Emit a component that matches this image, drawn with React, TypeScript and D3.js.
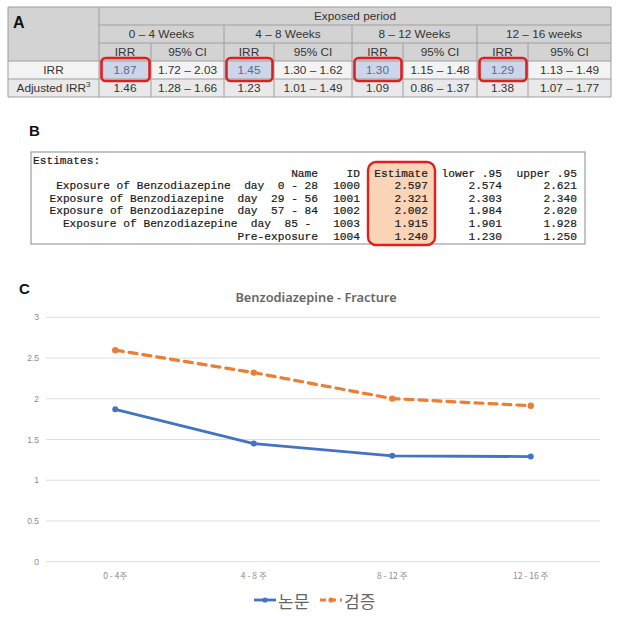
import React from "react";
import * as d3 from "d3";

// ---------- Data: panel A ----------
const periods = ["0 – 4 Weeks", "4 – 8 Weeks", "8 – 12 Weeks", "12 – 16 weeks"];
const irr = [1.87, 1.45, 1.3, 1.29];
const irrCI = ["1.72 – 2.03", "1.30 – 1.62", "1.15 – 1.48", "1.13 – 1.49"];
const adjIrr = [1.46, 1.23, 1.09, 1.38];
const adjCI = ["1.28 – 1.66", "1.01 – 1.49", "0.86 – 1.37", "1.07 – 1.77"];

// ---------- Data: panel B ----------
const estNames = [
  "Exposure of Benzodiazepine  day  0 - 28",
  "Exposure of Benzodiazepine  day  29 - 56",
  "Exposure of Benzodiazepine  day  57 - 84",
  "Exposure of Benzodiazepine  day  85 - ",
  "Pre-exposure",
];
const estIds = [1000, 1001, 1002, 1003, 1004];
const estimates = [2.597, 2.321, 2.002, 1.915, 1.24];
const lower95 = [2.574, 2.303, 1.984, 1.901, 1.23];
const upper95 = [2.621, 2.34, 2.02, 1.928, 1.25];

// ---------- Data: panel C ----------
const categories = ["0 - 4주", "4 - 8 주", "8 - 12 주", "12 - 16 주"];
const paperSeries = [1.87, 1.45, 1.3, 1.29];
const verifySeries = [2.597, 2.321, 2.002, 1.915];
const seriesNames = ["논문", "검증"];
const yTicks = [0, 0.5, 1, 1.5, 2, 2.5, 3];

const SANS = "'Liberation Sans', Arial, sans-serif";
const MONO = "'Liberation Mono', 'DejaVu Sans Mono', monospace";
const CJK = "'Noto Sans CJK KR', 'Noto Sans', sans-serif";

function PanelA() {
  const colX = [8, 99, 151, 224, 274, 352, 403, 477, 528, 611];
  const rowY = [7, 25, 43, 61, 79, 97];
  const headBg = "#d3d3d3";
  const line = "#9e9e9e";
  const txt = "#333";
  const fs = 11.8;
  const cells: React.ReactNode[] = [];
  cells.push(<rect key="hbg" x={colX[0]} y={rowY[0]} width={colX[9] - colX[0]} height={rowY[3] - rowY[0]} fill={headBg} />);
  cells.push(<rect key="r1" x={colX[0]} y={rowY[3]} width={colX[9] - colX[0]} height={rowY[4] - rowY[3]} fill="#f3f3f3" />);
  cells.push(<rect key="r2" x={colX[0]} y={rowY[4]} width={colX[9] - colX[0]} height={rowY[5] - rowY[4]} fill="#e9e9e9" />);
  irr.forEach((_, i) => {
    const x0 = colX[1 + i * 2], x1 = colX[2 + i * 2];
    cells.push(<rect key={"hl" + i} x={x0} y={rowY[3]} width={x1 - x0} height={rowY[4] - rowY[3]} fill="#cdd5e9" />);
  });
  cells.push(<line key="h0" x1={colX[0]} x2={colX[9]} y1={rowY[0]} y2={rowY[0]} stroke={line} />);
  cells.push(<line key="h1" x1={colX[1]} x2={colX[9]} y1={rowY[1]} y2={rowY[1]} stroke={line} />);
  cells.push(<line key="h2" x1={colX[1]} x2={colX[9]} y1={rowY[2]} y2={rowY[2]} stroke={line} />);
  [3, 4, 5].forEach((r) => cells.push(<line key={"h" + r} x1={colX[0]} x2={colX[9]} y1={rowY[r]} y2={rowY[r]} stroke={line} />));
  cells.push(<line key="v0" x1={colX[0]} x2={colX[0]} y1={rowY[0]} y2={rowY[5]} stroke={line} />);
  cells.push(<line key="v1" x1={colX[1]} x2={colX[1]} y1={rowY[0]} y2={rowY[5]} stroke={line} />);
  cells.push(<line key="v9" x1={colX[9]} x2={colX[9]} y1={rowY[0]} y2={rowY[5]} stroke={line} />);
  [3, 5, 7].forEach((c) => cells.push(<line key={"vg" + c} x1={colX[c]} x2={colX[c]} y1={rowY[1]} y2={rowY[5]} stroke={line} />));
  [2, 4, 6, 8].forEach((c) => cells.push(<line key={"vs" + c} x1={colX[c]} x2={colX[c]} y1={rowY[2]} y2={rowY[5]} stroke={line} />));

  const ct = (key: string, x: number, y: number, s: React.ReactNode, color = txt) => (
    <text key={key} x={x} y={y} textAnchor="middle" dominantBaseline="central" fontSize={fs} fontFamily={SANS} fill={color}>{s}</text>
  );
  const mid = (a: number, b: number) => (a + b) / 2;
  cells.push(ct("exp", mid(colX[1], colX[9]), mid(rowY[0], rowY[1]), "Exposed period"));
  periods.forEach((p, i) => {
    const x0 = colX[1 + i * 2], xm = colX[2 + i * 2], x1 = colX[3 + i * 2];
    cells.push(ct("p" + i, mid(x0, x1), mid(rowY[1], rowY[2]), p));
    cells.push(ct("hi" + i, mid(x0, xm), mid(rowY[2], rowY[3]), "IRR"));
    cells.push(ct("hc" + i, mid(xm, x1), mid(rowY[2], rowY[3]), "95% CI"));
    cells.push(ct("v" + i, mid(x0, xm), mid(rowY[3], rowY[4]), irr[i].toFixed(2), "#5a6b8c"));
    cells.push(ct("c" + i, mid(xm, x1), mid(rowY[3], rowY[4]), irrCI[i]));
    cells.push(ct("av" + i, mid(x0, xm), mid(rowY[4], rowY[5]), adjIrr[i].toFixed(2)));
    cells.push(ct("ac" + i, mid(xm, x1), mid(rowY[4], rowY[5]), adjCI[i]));
  });
  cells.push(ct("lIRR", mid(colX[0], colX[1]), mid(rowY[3], rowY[4]), "IRR"));
  cells.push(
    <text key="ladj" x={mid(colX[0], colX[1])} y={mid(rowY[4], rowY[5])} textAnchor="middle" dominantBaseline="central" fontSize={fs} fontFamily={SANS} fill={txt}>
      Adjusted IRR<tspan fontSize={8} dy={-4}>3</tspan>
    </text>
  );
  cells.push(<text key="A" x={13} y={28} fontSize={16} fontWeight="bold" fontFamily={SANS} fill="#111">A</text>);
  irr.forEach((_, i) => {
    const x0 = colX[1 + i * 2], x1 = colX[2 + i * 2];
    cells.push(<rect key={"rb" + i} x={x0 + 2.5} y={rowY[3] - 3} width={x1 - x0 - 4} height={rowY[4] - rowY[3] + 5} rx={4} fill="none" stroke="#e21f1f" strokeWidth={2.6} />);
  });
  return <g>{cells}</g>;
}

function PanelB() {
  const fs = 11.2;
  const lineY = (i: number) => 161 + i * 12.6;
  const colRight = { name: 318, id: 360, est: 428, lo: 502, up: 577 };
  const t = (key: string, x: number, y: number, s: string, anchor = "end") => (
    <text key={key} x={x} y={y} textAnchor={anchor} dominantBaseline="central" fontSize={fs} fontFamily={MONO} fill="#1a1a1a" stroke="#1a1a1a" strokeWidth={0.2} xmlSpace="preserve" style={{ whiteSpace: "pre" }}>{s}</text>
  );
  const items: React.ReactNode[] = [];
  items.push(<text key="B" x={29} y={136} fontSize={15} fontWeight="bold" fontFamily={SANS} fill="#111">B</text>);
  items.push(<rect key="box" x={31} y={152} width={554} height={92} fill="#fff" stroke="#8a8a8a" strokeWidth={1} />);
  items.push(<rect key="hlb" x={368} y={162} width={67} height={83} rx={8} fill="#fad4b6" stroke="#e21f1f" strokeWidth={2.4} />);
  items.push(t("est", 33, lineY(0), "Estimates:", "start"));
  items.push(t("hn", colRight.name, lineY(1), "Name"));
  items.push(t("hid", colRight.id, lineY(1), "ID"));
  items.push(t("he", colRight.est, lineY(1), "Estimate"));
  items.push(t("hl", colRight.lo, lineY(1), "lower .95"));
  items.push(t("hu", colRight.up, lineY(1), "upper .95"));
  estNames.forEach((n, i) => {
    const y = lineY(i + 2);
    items.push(t("n" + i, colRight.name, y, n));
    items.push(t("i" + i, colRight.id, y, String(estIds[i])));
    items.push(t("e" + i, colRight.est, y, estimates[i].toFixed(3)));
    items.push(t("l" + i, colRight.lo, y, lower95[i].toFixed(3)));
    items.push(t("u" + i, colRight.up, y, upper95[i].toFixed(3)));
  });
  return <g>{items}</g>;
}

function PanelC() {
  const left = 46, right = 600, top = 317.3, bottom = 561.7;
  const x = d3.scalePoint<string>().domain(categories).range([left, right]).padding(0.5);
  const y = d3.scaleLinear().domain([0, 3]).range([bottom, top]);
  const lineGen = d3.line<number>().x((_, i) => x(categories[i]) as number).y((d) => y(d));
  const blue = "#4472c4";
  const orange = "#ed7d31";
  const gray = "#8c8c8c";
  return (
    <g>
      <text x={19} y={294} fontSize={15} fontWeight="bold" fontFamily={SANS} fill="#111">C</text>
      <text x={316} y={297} textAnchor="middle" dominantBaseline="central" fontSize={12.8} fontWeight={600} fontFamily={"'Noto Sans', sans-serif"} fill="#666">Benzodiazepine - Fracture</text>
      {yTicks.map((t) => (
        <g key={t}>
          <line x1={left} x2={right} y1={y(t)} y2={y(t)} stroke="#dedede" strokeWidth={1} />
          <text x={39} y={y(t)} textAnchor="end" dominantBaseline="central" fontSize={8.5} fontFamily={SANS} fill={gray}>{String(t)}</text>
        </g>
      ))}
      {categories.map((c) => (
        <text key={c} x={x(c)} y={575} textAnchor="middle" dominantBaseline="central" fontSize={8.5} fontFamily={CJK} fill={gray}>{c}</text>
      ))}
      <path d={lineGen(paperSeries) || ""} fill="none" stroke={blue} strokeWidth={2.8} strokeLinejoin="round" />
      {paperSeries.map((v, i) => (
        <circle key={"b" + i} cx={x(categories[i])} cy={y(v)} r={3} fill={blue} />
      ))}
      <path d={lineGen(verifySeries) || ""} fill="none" stroke={orange} strokeWidth={3.2} strokeDasharray="8,6" strokeLinecap="round" strokeLinejoin="round" />
      {verifySeries.map((v, i) => (
        <circle key={"o" + i} cx={x(categories[i])} cy={y(v)} r={3.2} fill={orange} />
      ))}
      <g>
        <line x1={254} x2={276} y1={600} y2={600} stroke={blue} strokeWidth={2.8} />
        <circle cx={265} cy={600} r={2.6} fill={blue} />
        <text x={278} y={600} dominantBaseline="central" fontSize={17} fontFamily={CJK} fill="#666">{seriesNames[0]}</text>
        <line x1={320} x2={342} y1={600} y2={600} stroke={orange} strokeWidth={3} strokeDasharray="6,4" />
        <circle cx={331} cy={600} r={2.6} fill={orange} />
        <text x={344} y={600} dominantBaseline="central" fontSize={17} fontFamily={CJK} fill="#666">{seriesNames[1]}</text>
      </g>
    </g>
  );
}

export default function App() {
  return (
    <svg width={621} height={620} viewBox="0 0 621 620" style={{ position: "absolute", left: 0, top: 0, background: "#fff" }}>
      <rect x={0} y={0} width={621} height={620} fill="#fff" />
      <PanelA />
      <PanelB />
      <PanelC />
    </svg>
  );
}
